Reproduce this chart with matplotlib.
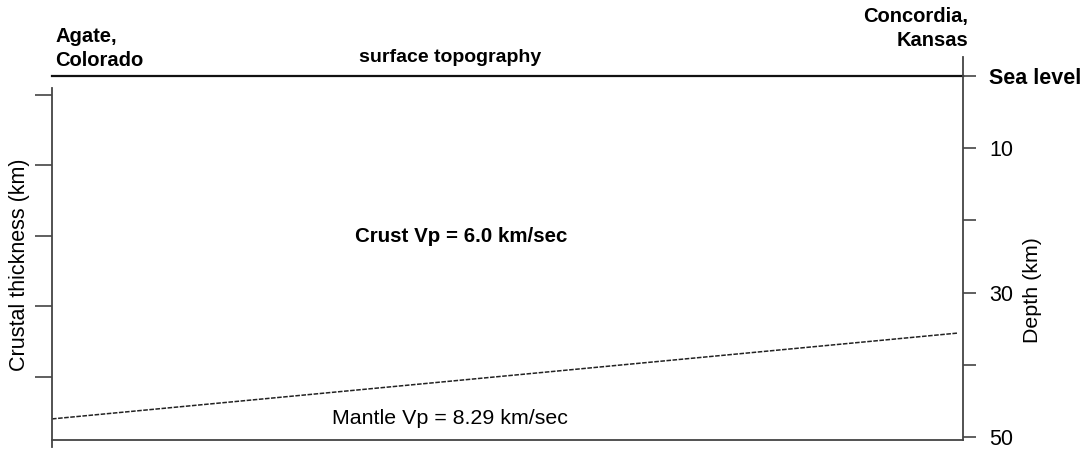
import numpy as np
import matplotlib.pyplot as plt

plt.rcParams['font.family'] = ['Liberation Sans', 'DejaVu Sans']

# distance along the profile, normalised: Agate (0) -> Concordia (1)
surface_x = [0.0, 1.0]
surface_depth = [0.0, 0.0]
moho_x = [0.0, 0.995]
moho_depth = [47.5, 35.6]   # km

depth_ticks = [0, 10, 20, 30, 40, 50]
depth_labels = ['Sea level', '10', '', '30', '', '50']
thick_ticks = [0, 10, 20, 30, 40]

W, H = 1080, 450
def fx(px): return px / W
def fy(py): return 1 - py / H

line_col = '#222222'
spine_col = '#444444'

fig = plt.figure(figsize=(10.8, 4.5), dpi=100)

# main panel, depth scale on the right
ax = fig.add_axes([fx(52), fy(440), fx(963) - fx(52), fy(57) - fy(440)])
ax.set_xlim(0, 1)
ax.set_ylim(50.42, -2.63)
ax.spines['top'].set_visible(False)
ax.spines['left'].set_visible(False)
for s in ['right', 'bottom']:
	ax.spines[s].set_color(spine_col)
	ax.spines[s].set_linewidth(1.3)
ax.set_xticks([])
ax.yaxis.tick_right()
ax.set_yticks(depth_ticks)
ax.set_yticklabels(depth_labels)
ax.tick_params(axis='y', direction='out', length=9, width=1.2, pad=10,
	labelsize=15.5, color=spine_col)
ax.get_yticklabels()[0].set_fontweight('bold')

ax.plot(surface_x, surface_depth, color='#111111', lw=1.6, clip_on=False)
ax.plot(moho_x, moho_depth, color=line_col, lw=1.1, ls=(0, (3, 1)))

# left scale, crustal thickness (ticks only)
axl = fig.add_axes([fx(52), fy(447), 0.001, fy(88) - fy(447)])
axl.patch.set_visible(False)
for s in ['top', 'right', 'bottom']:
	axl.spines[s].set_visible(False)
axl.spines['left'].set_color(spine_col)
axl.spines['left'].set_linewidth(1.3)
axl.set_xticks([])
axl.set_ylim(49.93, -0.99)
axl.set_yticks(thick_ticks)
axl.set_yticklabels([])
axl.tick_params(axis='y', direction='out', length=12, width=1.2, color=spine_col)

# labels
fig.text(fx(55), fy(27), 'Agate,\nColorado', fontsize=14.5, fontweight='bold',
	ha='left', va='top', linespacing=1.35)
fig.text(fx(968), fy(7), 'Concordia,\nKansas', fontsize=14.5, fontweight='bold',
	ha='right', va='top', multialignment='right', linespacing=1.35)
fig.text(fx(450), fy(62), 'surface topography', fontsize=14, fontweight='bold',
	ha='center', va='baseline')
fig.text(fx(461), fy(237), 'Crust Vp = 6.0 km/sec', fontsize=14.8, fontweight='bold',
	ha='center', va='center')
fig.text(fx(450), fy(418), 'Mantle Vp = 8.29 km/sec', fontsize=15.4,
	ha='center', va='center')
fig.text(fx(20), fy(265), 'Crustal thickness (km)', fontsize=15.5, rotation=90,
	ha='center', va='center')
fig.text(fx(1033), fy(290), 'Depth (km)', fontsize=15.4, rotation=90,
	ha='center', va='center')

fig.savefig('out.png', dpi=100)
